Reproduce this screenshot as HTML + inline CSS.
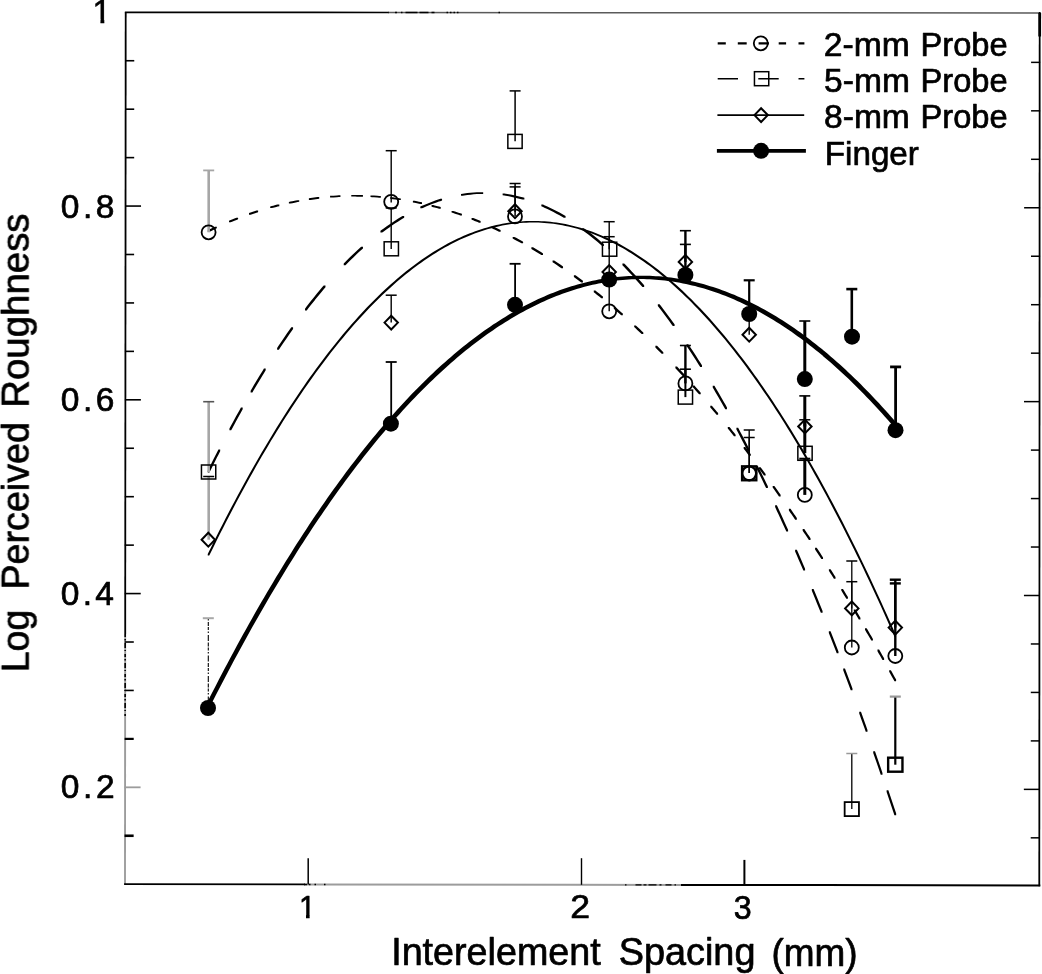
<!DOCTYPE html>
<html lang="en">
<head>
<meta charset="utf-8">
<title>Log Perceived Roughness vs Interelement Spacing</title>
<style>
html,body{margin:0;padding:0;background:#fff;}
body{width:1042px;height:974px;overflow:hidden;font-family:"Liberation Sans",sans-serif;}
svg{display:block;}
</style>
</head>
<body>
<svg width="1042" height="974" viewBox="0 0 1042 974" role="img" aria-label="Log perceived roughness as a function of interelement spacing">
<rect x="0" y="0" width="1042" height="974" fill="#fff"/>
<defs><filter id="soft" x="0" y="0" width="1042" height="974" filterUnits="userSpaceOnUse" color-interpolation-filters="sRGB"><feGaussianBlur stdDeviation="0.4"/></filter></defs>
<g filter="url(#soft)">
<g fill="none">
<path d="M125.20 634.00L125.00 884.20" stroke="#9c9c9c" stroke-width="1.9" stroke-linecap="butt"/>
<path d="M125.20 634.00L125.14 716.00" stroke="#000" stroke-width="1.6" stroke-linecap="butt" stroke-dasharray="3 2 1.5 2.5 5 2 1 3"/>
<path d="M125.70 12.30L125.20 634.00" stroke="#000" stroke-width="1.8" stroke-linecap="butt"/>
<path d="M304.00 884.43L682.00 884.93" stroke="#9c9c9c" stroke-width="2.0" stroke-linecap="butt"/>
<path d="M304.00 884.43L330.00 884.47" stroke="#000" stroke-width="1.6" stroke-linecap="butt" stroke-dasharray="3 2 1.5 4 1.5 8 1.5 20"/>
<path d="M625.00 884.86L682.00 884.93" stroke="#000" stroke-width="1.4" stroke-linecap="butt" stroke-dasharray="1.5 9 6 2 3 2 8 3 2 4 6 3"/>
<path d="M125.00 884.20L304.00 884.43" stroke="#000" stroke-width="1.8" stroke-linecap="square"/>
<path d="M682.00 884.93L1039.30 885.40" stroke="#000" stroke-width="2.0" stroke-linecap="square"/>
<path d="M388.00 12.50L1039.70 13.00" stroke="#5a5a5a" stroke-width="1.5" stroke-linecap="butt"/>
<path d="M395.00 12.51L500.00 12.59" stroke="#000" stroke-width="1.5" stroke-linecap="butt" stroke-dasharray="2 4 1.5 3 12 2 9 3 3 12 1.5 2 1.5 2 1.5 2 1.5 40"/>
<path d="M125.70 12.30L388.00 12.50" stroke="#000" stroke-width="1.7" stroke-linecap="square"/>
<path d="M1039.70 13.00L1039.30 885.40" stroke="#000" stroke-width="1.8" stroke-linecap="square"/>
<path d="M1039.70 13.00L1039.69 36.55" stroke="#000" stroke-width="2.8" stroke-linecap="butt"/>
</g>
<g fill="none" stroke="#000" stroke-width="1.5">
<path d="M125.16 60.74h9.1" stroke="#000" stroke-width="1.6"/>
<path d="M1040.18 62.37h-9.1"/>
<path d="M125.12 109.18h9.1" stroke="#000" stroke-width="1.6"/>
<path d="M1040.16 110.83h-9.1"/>
<path d="M125.08 157.62h9.1" stroke="#000" stroke-width="1.6"/>
<path d="M1040.13 159.30h-9.1"/>
<path d="M125.04 206.06h16.0" stroke="#000" stroke-width="1.6"/>
<path d="M1040.11 207.77h-16.0"/>
<path d="M125.01 254.49h9.1" stroke="#000" stroke-width="1.6"/>
<path d="M1040.09 256.23h-9.1"/>
<path d="M124.97 302.93h9.1" stroke="#000" stroke-width="1.6"/>
<path d="M1040.07 304.70h-9.1"/>
<path d="M124.93 351.37h9.1" stroke="#000" stroke-width="1.6"/>
<path d="M1040.04 353.17h-9.1"/>
<path d="M124.89 399.81h16.0" stroke="#000" stroke-width="1.6"/>
<path d="M1040.02 401.63h-16.0"/>
<path d="M124.85 448.25h9.1" stroke="#000" stroke-width="1.6"/>
<path d="M1040.00 450.10h-9.1"/>
<path d="M124.81 496.69h9.1" stroke="#000" stroke-width="1.6"/>
<path d="M1039.98 498.57h-9.1"/>
<path d="M124.77 545.13h9.1" stroke="#000" stroke-width="1.6"/>
<path d="M1039.96 547.03h-9.1"/>
<path d="M124.73 593.57h16.0" stroke="#000" stroke-width="1.6"/>
<path d="M1039.93 595.50h-16.0"/>
<path d="M124.69 642.01h9.1" stroke="#000" stroke-width="1.6"/>
<path d="M1039.91 643.97h-9.1"/>
<path d="M124.66 690.44h9.1" stroke="#000" stroke-width="1.6"/>
<path d="M1039.89 692.43h-9.1"/>
<path d="M124.62 738.88h9.1" stroke="#000" stroke-width="2.2"/>
<path d="M1039.87 740.90h-9.1"/>
<path d="M124.58 787.32h16.0" stroke="#9c9c9c" stroke-width="1.8"/>
<path d="M1039.84 789.37h-16.0"/>
<path d="M124.54 835.76h9.1" stroke="#000" stroke-width="2.6"/>
<path d="M1039.82 837.83h-9.1"/>
<path d="M308.20 884.44V858.20" stroke-width="1.5"/>
<path d="M581.50 884.80V858.20" stroke-width="1.4"/>
<path d="M744.40 885.01V859.90" stroke-width="2.0"/>
</g>
<g fill="#000" stroke="none">
<path d="M207.75 554.08L207.75 554.07L209.25 551.00L210.76 547.94L213.76 541.85L216.77 535.83L219.77 529.86L222.78 523.95L225.78 518.09L228.79 512.30L231.80 506.56L234.80 500.88L237.81 495.25L240.81 489.68L243.82 484.17L246.82 478.72L249.83 473.32L252.84 467.98L255.84 462.69L258.85 457.47L261.85 452.30L264.86 447.19L267.86 442.13L270.87 437.14L273.87 432.20L276.88 427.31L279.89 422.49L282.89 417.72L285.90 413.00L288.90 408.35L291.91 403.75L294.91 399.21L297.92 394.73L300.93 390.30L303.93 385.93L306.94 381.62L309.94 377.36L312.95 373.17L315.95 369.03L318.96 364.94L321.97 360.92L324.97 356.95L327.98 353.03L330.98 349.18L333.99 345.38L336.99 341.64L340.00 337.95L343.01 334.33L346.01 330.76L349.02 327.24L352.02 323.79L355.03 320.39L358.03 317.05L361.04 313.76L364.05 310.54L367.05 307.37L370.06 304.25L373.06 301.20L376.07 298.20L379.07 295.26L382.08 292.37L385.08 289.55L388.09 286.77L391.10 284.06L394.10 281.41L397.11 278.81L400.11 276.26L403.12 273.78L406.12 271.35L409.13 268.98L412.14 266.67L415.14 264.41L418.15 262.21L421.15 260.07L424.16 257.98L427.16 255.96L430.17 253.98L433.18 252.07L436.18 250.21L439.19 248.41L442.19 246.67L445.20 244.99L448.20 243.36L451.21 241.79L454.22 240.27L457.22 238.82L460.23 237.42L463.23 236.07L466.24 234.79L469.24 233.56L472.25 232.39L475.26 231.27L478.26 230.22L481.27 229.22L484.27 228.27L487.28 227.39L490.28 226.56L493.29 225.79L496.29 225.07L499.30 224.41L502.31 223.81L505.31 223.27L508.32 222.78L511.32 222.36L514.33 221.98L517.33 221.67L520.34 221.41L523.35 221.21L526.35 221.07L529.36 220.98L532.36 220.95L532.41 220.95L533.91 220.95L535.37 220.96L538.37 221.01L541.38 221.13L544.39 221.30L547.39 221.53L550.40 221.81L553.40 222.15L556.41 222.55L559.41 223.01L562.42 223.52L565.43 224.09L568.43 224.72L571.44 225.40L574.44 226.14L577.45 226.94L580.45 227.80L583.46 228.71L586.47 229.68L589.47 230.71L592.48 231.79L595.48 232.93L598.49 234.13L601.49 235.39L604.50 236.70L607.51 238.07L610.51 239.50L613.52 240.98L616.52 242.52L619.53 244.12L622.53 245.78L625.54 247.49L628.54 249.26L631.55 251.08L634.56 252.97L637.56 254.91L640.57 256.91L643.57 258.96L646.58 261.07L649.58 263.24L652.59 265.47L655.60 267.75L658.60 270.09L661.61 272.49L664.61 274.95L667.62 277.46L670.62 280.03L673.63 282.65L676.64 285.34L679.64 288.08L682.65 290.87L685.65 293.73L688.66 296.64L691.66 299.61L694.67 302.64L697.68 305.72L700.68 308.86L703.69 312.06L706.69 315.31L709.70 318.62L712.70 321.99L715.71 325.41L718.72 328.90L721.72 332.44L724.73 336.03L727.73 339.69L730.74 343.40L733.74 347.17L736.75 350.99L739.75 354.88L742.76 358.81L745.77 362.81L748.77 366.86L751.78 370.98L754.78 375.14L757.79 379.37L760.79 383.65L763.80 387.99L766.81 392.39L769.81 396.84L772.82 401.35L775.82 405.92L778.83 410.54L781.83 415.22L784.84 419.96L787.85 424.76L790.85 429.61L793.86 434.52L796.86 439.49L799.87 444.52L802.87 449.60L805.88 454.74L808.89 459.93L811.89 465.18L814.90 470.49L817.90 475.86L820.91 481.29L823.91 486.77L826.92 492.31L829.93 497.90L832.93 503.55L835.94 509.26L838.94 515.03L841.95 520.85L844.95 526.74L847.96 532.67L850.96 538.67L853.97 544.72L856.98 550.83L859.98 557.00L862.99 563.22L865.99 569.50L869.00 575.84L872.00 582.24L875.01 588.69L878.02 595.20L881.02 601.76L884.03 608.39L887.03 615.07L890.04 621.80L893.04 628.60L894.55 632.02L896.05 635.45L896.05 635.45L896.05 636.95L896.05 636.95L894.55 636.95L893.04 633.51L890.04 626.69L887.03 619.92L884.03 613.21L881.02 606.56L878.02 599.97L875.01 593.43L872.00 586.95L869.00 580.52L865.99 574.16L862.99 567.85L859.98 561.60L856.98 555.40L853.97 549.26L850.96 543.18L847.96 537.16L844.95 531.19L841.95 525.28L838.94 519.43L835.94 513.63L832.93 507.90L829.93 502.22L826.92 496.59L823.91 491.02L820.91 485.51L817.90 480.06L814.90 474.67L811.89 469.33L808.89 464.05L805.88 458.82L802.87 453.65L799.87 448.54L796.86 443.49L793.86 438.50L790.85 433.56L787.85 428.67L784.84 423.85L781.83 419.08L778.83 414.37L775.82 409.72L772.82 405.12L769.81 400.58L766.81 396.10L763.80 391.68L760.79 387.31L757.79 383.00L754.78 378.75L751.78 374.55L748.77 370.41L745.77 366.33L742.76 362.30L739.75 358.33L736.75 354.42L733.74 350.57L730.74 346.77L727.73 343.03L724.73 339.35L721.72 335.73L718.72 332.16L715.71 328.65L712.70 325.19L709.70 321.79L706.69 318.45L703.69 315.17L700.68 311.95L697.68 308.78L694.67 305.67L691.66 302.61L688.66 299.61L685.65 296.67L682.65 293.79L679.64 290.97L676.64 288.20L673.63 285.49L670.62 282.83L667.62 280.23L664.61 277.69L661.61 275.21L658.60 272.78L655.60 270.41L652.59 268.10L649.58 265.85L646.58 263.65L643.57 261.51L640.57 259.43L637.56 257.40L634.56 255.43L631.55 253.52L628.54 251.66L625.54 249.86L622.53 248.12L619.53 246.44L616.52 244.81L613.52 243.24L610.51 241.73L607.51 240.28L604.50 238.88L601.49 237.54L598.49 236.25L595.48 235.03L592.48 233.86L589.47 232.74L586.47 231.69L583.46 230.69L580.45 229.75L577.45 228.86L574.44 228.04L571.44 227.27L568.43 226.55L565.43 225.90L562.42 225.30L559.41 224.76L556.41 224.27L553.40 223.84L550.40 223.47L547.39 223.16L544.39 222.90L541.38 222.71L538.37 222.56L535.37 222.48L533.91 222.46L532.41 222.46L532.36 222.46L529.36 222.52L526.35 222.63L523.35 222.80L520.34 223.03L517.33 223.32L514.33 223.66L511.32 224.06L508.32 224.52L505.31 225.03L502.31 225.61L499.30 226.24L496.29 226.92L493.29 227.66L490.28 228.46L487.28 229.32L484.27 230.24L481.27 231.21L478.26 232.24L475.26 233.32L472.25 234.47L469.24 235.67L466.24 236.92L463.23 238.24L460.23 239.61L457.22 241.04L454.22 242.52L451.21 244.06L448.20 245.66L445.20 247.32L442.19 249.03L439.19 250.81L436.18 252.63L433.18 254.52L430.17 256.46L427.16 258.46L424.16 260.52L421.15 262.63L418.15 264.80L415.14 267.03L412.14 269.31L409.13 271.66L406.12 274.06L403.12 276.51L400.11 279.03L397.11 281.60L394.10 284.22L391.10 286.91L388.09 289.65L385.08 292.45L382.08 295.31L379.07 298.22L376.07 301.19L373.06 304.22L370.06 307.30L367.05 310.44L364.05 313.64L361.04 316.90L358.03 320.21L355.03 323.58L352.02 327.01L349.02 330.49L346.01 334.03L343.01 337.63L340.00 341.29L336.99 345.00L333.99 348.77L330.98 352.59L327.98 356.48L324.97 360.42L321.97 364.42L318.96 368.47L315.95 372.59L312.95 376.75L309.94 380.98L306.94 385.26L303.93 389.61L300.93 394.00L297.92 398.46L294.91 402.97L291.91 407.54L288.90 412.17L285.90 416.85L282.89 421.59L279.89 426.39L276.88 431.24L273.87 436.15L270.87 441.12L267.86 446.15L264.86 451.23L261.85 456.37L258.85 461.57L255.84 466.82L252.84 472.14L249.83 477.50L246.82 482.93L243.82 488.41L240.81 493.95L237.81 499.55L234.80 505.20L231.80 510.92L228.79 516.68L225.78 522.51L222.78 528.39L219.77 534.33L216.77 540.33L213.76 546.38L210.76 552.49L209.25 555.58L207.75 555.58L207.75 555.58Z"/>
<path d="M207.72 470.71L207.73 470.71L209.47 467.18L210.84 464.45L213.95 458.26L217.06 452.14L218.43 449.48L220.17 449.48L220.18 449.48L220.18 451.23L220.17 451.23L218.43 454.65L217.06 457.32L213.95 463.48L210.84 469.71L209.47 472.46L207.73 472.46L207.72 472.46ZM229.43 428.54L229.43 428.53L231.18 425.29L232.74 422.40L236.05 416.35L239.36 410.38L240.93 407.59L242.67 407.59L242.68 407.59L242.68 409.34L242.67 409.34L240.93 412.46L239.36 415.27L236.05 421.29L232.74 427.38L231.18 430.29L229.43 430.29L229.43 430.29ZM250.62 390.67L250.63 390.67L252.38 387.70L253.63 385.57L256.64 380.53L259.66 375.55L262.67 370.64L263.93 368.61L265.67 368.61L265.68 368.61L265.68 370.36L265.67 370.36L263.93 373.19L262.67 375.24L259.66 380.18L256.64 385.20L253.63 390.28L252.38 392.42L250.63 392.42L250.62 392.42ZM277.12 347.99L277.13 347.99L278.88 345.35L280.31 343.20L283.50 338.49L286.69 333.84L289.88 329.28L291.32 327.24L293.07 327.24L293.07 327.24L293.07 328.99L293.07 328.99L291.32 331.47L289.88 333.52L286.69 338.13L283.50 342.81L280.31 347.57L278.88 349.74L277.13 349.74L277.12 349.74ZM305.02 308.63L305.03 308.63L306.77 306.35L307.95 304.84L310.87 301.11L313.79 297.44L316.71 293.84L319.63 290.30L322.55 286.82L323.73 285.45L325.47 285.45L325.48 285.45L325.48 287.20L325.47 287.20L323.73 289.26L322.55 290.65L319.63 294.16L316.71 297.74L313.79 301.38L310.87 305.08L307.95 308.85L306.77 310.38L305.03 310.38L305.02 310.38ZM343.73 263.50L343.73 263.50L345.48 261.72L346.93 260.25L350.14 257.08L353.35 253.98L356.56 250.96L359.77 248.01L361.23 246.70L362.97 246.70L362.98 246.70L362.98 248.45L362.97 248.45L361.23 250.03L359.77 251.36L356.56 254.35L353.35 257.41L350.14 260.55L346.93 263.76L345.48 265.25L343.73 265.25L343.73 265.25ZM380.43 230.86L380.43 230.86L382.18 229.55L383.39 228.65L386.36 226.51L389.33 224.43L392.30 222.42L395.27 220.47L398.24 218.59L401.21 216.77L402.43 216.04L404.17 216.04L404.18 216.04L404.18 217.79L404.17 217.79L402.43 218.84L401.21 219.58L398.24 221.44L395.27 223.36L392.30 225.35L389.33 227.40L386.36 229.52L383.39 231.70L382.18 232.61L380.43 232.61L380.43 232.61ZM420.32 206.61L420.33 206.61L422.07 205.81L423.43 205.21L426.54 203.88L429.65 202.63L432.75 201.44L435.86 200.33L438.97 199.29L440.32 198.85L442.07 198.85L442.07 198.85L442.07 200.60L442.07 200.60L440.32 201.16L438.97 201.61L435.86 202.70L432.75 203.85L429.65 205.08L426.54 206.37L423.43 207.74L422.07 208.36L420.33 208.36L420.32 208.36ZM461.02 193.92L461.03 193.92L462.77 193.65L464.19 193.44L467.35 193.04L470.52 192.71L473.68 192.45L476.85 192.27L480.01 192.16L481.43 192.14L483.17 192.14L483.18 192.14L483.18 193.89L483.17 193.89L481.43 193.92L480.01 193.96L476.85 194.11L473.68 194.34L470.52 194.63L467.35 195.00L464.19 195.45L462.77 195.67L461.03 195.67L461.02 195.67ZM502.62 193.53L502.63 193.53L504.38 193.53L505.73 193.73L508.84 194.24L511.95 194.82L515.05 195.48L518.16 196.20L521.27 197.00L522.62 197.37L524.37 197.86L524.38 197.86L524.38 199.61L524.37 199.61L522.62 199.61L521.27 199.23L518.16 198.39L515.05 197.63L511.95 196.93L508.84 196.31L505.73 195.76L504.38 195.54L502.63 195.28L502.62 195.28ZM541.33 204.58L541.33 204.58L543.08 204.58L544.36 205.13L547.39 206.49L550.42 207.92L553.45 209.41L556.48 210.97L559.51 212.60L562.54 214.30L563.83 215.03L565.57 216.06L565.58 216.06L565.58 217.81L565.57 217.81L563.83 217.81L562.54 217.06L559.51 215.32L556.48 213.65L553.45 212.05L550.42 210.52L547.39 209.05L544.36 207.66L543.08 207.09L541.33 206.33L541.33 206.33ZM582.12 228.14L582.13 228.14L583.88 228.14L585.23 229.14L588.34 231.46L591.45 233.86L594.55 236.33L597.66 238.87L600.77 241.48L602.12 242.64L603.87 244.16L603.88 244.16L603.88 245.91L603.87 245.91L602.12 245.91L600.77 244.73L597.66 242.08L594.55 239.50L591.45 236.99L588.34 234.55L585.23 232.19L583.88 231.18L582.13 229.89L582.12 229.89ZM622.42 263.42L622.43 263.42L624.17 263.42L625.53 264.82L628.64 268.07L631.75 271.38L634.85 274.77L637.96 278.23L641.07 281.76L642.42 283.33L644.17 285.36L644.17 285.36L644.17 287.11L644.17 287.11L642.42 287.11L641.07 285.53L637.96 281.96L634.85 278.46L631.75 275.03L628.64 271.68L625.53 268.39L624.17 266.98L622.43 265.18L622.42 265.17ZM657.83 304.26L657.83 304.26L659.58 304.26L660.62 305.60L663.41 309.24L666.20 312.93L668.99 316.67L671.78 320.48L672.83 321.91L674.57 324.34L674.58 324.34L674.58 326.09L674.57 326.09L672.83 326.09L671.78 324.64L668.99 320.80L666.20 317.02L663.41 313.29L660.62 309.62L659.58 308.27L657.83 306.01L657.83 306.01ZM686.52 344.13L686.53 344.13L688.27 344.13L689.62 346.14L692.71 350.82L695.79 355.57L698.88 360.40L700.23 362.51L701.97 365.29L701.98 365.29L701.98 367.04L701.97 367.04L700.23 367.04L698.88 364.91L695.79 360.05L692.71 355.25L689.62 350.53L688.27 348.50L686.53 345.88L686.52 345.88ZM712.73 385.80L712.73 385.80L714.48 385.80L715.58 387.66L718.43 392.52L721.27 397.44L724.12 402.42L725.23 404.36L726.97 407.46L726.98 407.46L726.98 409.21L726.97 409.21L725.23 409.21L724.12 407.26L721.27 402.24L718.43 397.29L715.58 392.39L714.48 390.52L712.73 387.55L712.73 387.55ZM736.42 427.85L736.43 427.85L738.17 427.85L739.69 430.67L742.95 436.82L746.21 443.04L747.73 445.96L749.47 449.34L749.48 449.35L749.48 451.10L749.47 451.10L747.73 451.10L746.21 448.16L742.95 441.90L739.69 435.71L738.17 432.86L736.43 429.60L736.42 429.60ZM756.12 465.94L756.13 465.94L757.88 465.94L759.06 468.32L762.00 474.27L764.94 480.28L766.12 482.73L767.87 486.36L767.88 486.36L767.88 488.11L767.87 488.11L766.12 488.11L764.94 485.65L762.00 479.60L759.06 473.61L757.88 471.21L756.13 467.69L756.12 467.69ZM775.12 505.37L775.13 505.37L776.88 505.37L778.36 508.57L781.60 515.59L784.84 522.69L786.33 525.97L788.07 529.86L788.08 529.86L788.08 531.61L788.07 531.61L786.33 531.61L784.84 528.31L781.60 521.17L778.36 514.11L776.88 510.89L775.13 507.12L775.12 507.12ZM795.12 549.75L795.13 549.75L796.88 549.75L798.44 553.35L801.76 561.03L803.33 564.69L805.07 568.79L805.08 568.79L805.08 570.54L805.07 570.54L803.33 570.54L801.76 566.87L798.44 559.14L796.88 555.52L795.13 551.50L795.12 551.50ZM811.83 589.06L811.83 589.06L813.58 589.06L814.51 591.32L817.20 597.86L819.89 604.45L820.83 606.76L822.57 611.09L822.58 611.09L822.58 612.84L822.57 612.84L820.83 612.84L819.89 610.52L817.20 603.89L814.51 597.32L813.58 595.04L811.83 590.81L811.83 590.81ZM828.83 631.17L828.83 631.17L830.58 631.17L832.04 634.91L835.26 643.15L836.73 646.93L838.47 651.46L838.48 651.47L838.48 653.22L838.47 653.22L836.73 653.22L835.26 649.42L832.04 641.13L830.58 637.38L828.83 632.93L828.83 632.92ZM843.23 668.51L843.23 668.51L844.98 668.51L846.31 672.04L849.39 680.27L850.73 683.84L852.47 688.56L852.48 688.56L852.48 690.31L852.47 690.31L850.73 690.31L849.39 686.71L846.31 678.45L844.98 674.90L843.23 670.26L843.23 670.26ZM859.23 711.78L859.23 711.78L860.98 711.78L861.98 714.55L864.73 722.20L865.73 724.99L867.47 729.90L867.48 729.90L867.48 731.65L867.47 731.65L865.73 731.65L864.73 728.84L861.98 721.16L860.98 718.38L859.23 713.53L859.23 713.53ZM873.23 751.19L873.23 751.19L874.98 751.19L876.31 755.02L879.39 763.92L880.73 767.79L882.47 772.89L882.48 772.89L882.48 774.64L882.47 774.64L880.73 774.64L879.39 770.75L876.31 761.81L874.98 757.96L873.23 752.94L873.23 752.94ZM886.62 790.25L886.63 790.25L888.38 790.25L889.81 794.51L892.99 804.02L894.42 808.32L896.17 813.60L896.17 813.60L896.17 815.35L896.17 815.35L894.42 815.35L892.99 811.03L889.81 801.48L888.38 797.20L886.63 792.01L886.62 792.00Z"/>
<path d="M207.78 230.16L207.78 230.16L209.42 229.36L210.79 228.72L213.81 227.30L215.18 226.67L216.82 226.67L216.82 226.67L216.82 228.32L216.82 228.32L215.18 229.09L213.81 229.72L210.79 231.15L209.42 231.81L207.78 231.81L207.78 231.81ZM228.98 220.66L228.98 220.66L230.62 219.99L232.03 219.42L235.08 218.21L236.48 217.66L238.12 217.66L238.12 217.66L238.12 219.31L238.12 219.31L236.48 219.96L235.08 220.51L232.03 221.74L230.62 222.31L228.98 222.31L228.98 222.31ZM248.98 213.07L248.98 213.07L250.62 212.51L252.03 212.03L255.08 211.02L256.48 210.57L258.12 210.57L258.12 210.57L258.12 212.22L258.12 212.22L256.48 212.75L255.08 213.22L252.03 214.24L250.62 214.72L248.98 214.72L248.98 214.72ZM270.18 206.47L270.18 206.47L271.82 206.02L273.23 205.65L276.27 204.85L277.68 204.50L279.32 204.50L279.32 204.50L279.32 206.15L279.32 206.15L277.68 206.57L276.27 206.93L273.23 207.74L271.82 208.12L270.18 208.12L270.18 208.12ZM288.88 201.89L288.88 201.89L290.52 201.54L292.32 201.17L295.77 200.49L297.57 200.15L299.22 200.15L299.22 200.15L299.22 201.80L299.22 201.80L297.57 202.11L295.77 202.46L292.32 203.16L290.52 203.54L288.88 203.54L288.88 203.54ZM308.88 198.27L308.88 198.27L310.52 198.03L312.32 197.78L315.77 197.33L317.57 197.11L319.22 197.11L319.22 197.11L319.22 198.76L319.22 198.76L317.57 198.96L315.77 199.19L312.32 199.66L310.52 199.92L308.88 199.92L308.88 199.92ZM330.07 195.87L330.08 195.87L331.72 195.75L333.52 195.63L336.98 195.42L338.78 195.32L340.42 195.32L340.43 195.32L340.43 196.97L340.42 196.97L338.78 197.06L336.98 197.16L333.52 197.39L331.72 197.52L330.08 197.52L330.07 197.52ZM351.28 194.97L351.28 194.97L352.93 194.96L353.55 194.96L354.19 194.96L355.20 194.96L357.10 194.97L360.01 195.00L361.28 195.02L362.92 195.06L362.93 195.06L362.93 196.71L362.92 196.71L361.28 196.71L360.01 196.68L357.10 196.63L355.20 196.62L354.19 196.61L353.55 196.62L352.93 196.62L351.28 196.62L351.28 196.62ZM370.48 195.44L370.48 195.44L372.12 195.44L373.93 195.54L377.38 195.78L379.18 195.91L380.82 196.05L380.82 196.05L380.82 197.70L380.82 197.70L379.18 197.70L377.38 197.55L373.93 197.30L372.12 197.18L370.48 197.09L370.48 197.09ZM390.18 197.18L390.18 197.18L391.82 197.18L392.84 197.31L395.50 197.65L398.16 198.02L399.18 198.17L400.82 198.41L400.82 198.41L400.82 200.06L400.82 200.06L399.18 200.06L398.16 199.91L395.50 199.53L392.84 199.17L391.82 199.04L390.18 198.83L390.18 198.83ZM412.88 200.79L412.88 200.79L414.52 200.79L415.93 201.07L418.97 201.70L420.38 202.00L422.02 202.36L422.02 202.36L422.02 204.01L422.02 204.01L420.38 204.01L418.97 203.70L415.93 203.06L414.52 202.77L412.88 202.44L412.88 202.44ZM431.57 205.05L431.58 205.05L433.22 205.05L434.62 205.41L437.67 206.23L439.07 206.62L440.72 207.08L440.72 207.08L440.72 208.73L440.72 208.73L439.07 208.73L437.67 208.33L434.62 207.50L433.22 207.13L431.58 206.70L431.57 206.70ZM451.57 210.88L451.58 210.88L453.22 210.88L455.02 211.47L458.48 212.63L460.28 213.25L461.92 213.83L461.93 213.83L461.93 215.48L461.92 215.48L460.28 215.48L458.48 214.85L455.02 213.67L453.22 213.07L451.58 212.53L451.57 212.53ZM471.57 218.04L471.58 218.04L473.22 218.04L474.59 218.57L477.61 219.78L478.98 220.34L480.62 221.02L480.62 221.02L480.62 222.67L480.62 222.67L478.98 222.67L477.61 222.10L474.59 220.88L473.22 220.33L471.58 219.69L471.57 219.69ZM491.48 226.47L491.48 226.47L493.12 226.47L494.53 227.11L497.57 228.54L498.98 229.20L500.62 229.99L500.62 229.99L500.62 231.64L500.62 231.64L498.98 231.64L497.57 230.97L494.53 229.53L493.12 228.88L491.48 228.12L491.48 228.12ZM512.67 236.90L512.68 236.90L514.33 236.90L516.16 237.87L519.64 239.75L521.47 240.76L523.12 241.67L523.12 241.67L523.12 243.32L523.12 243.32L521.47 243.32L519.64 242.30L516.16 240.41L514.33 239.43L512.68 238.55L512.67 238.55ZM531.38 247.34L531.38 247.34L533.03 247.34L534.29 248.08L537.20 249.83L540.11 251.60L541.38 252.37L543.02 253.39L543.03 253.39L543.03 255.04L543.02 255.04L541.38 255.04L540.11 254.26L537.20 252.48L534.29 250.72L533.03 249.97L531.38 248.99L531.38 248.99ZM552.57 260.57L552.58 260.57L554.23 260.57L556.06 261.79L559.54 264.12L561.38 265.37L563.02 266.50L563.03 266.50L563.03 268.15L563.02 268.15L561.38 268.15L559.54 266.89L556.06 264.54L554.23 263.31L552.58 262.22L552.57 262.22ZM573.88 275.37L573.88 275.37L575.53 275.37L576.89 276.37L579.91 278.60L581.27 279.62L582.92 280.86L582.93 280.86L582.93 282.51L582.92 282.51L581.27 282.51L579.91 281.48L576.89 279.23L575.53 278.22L573.88 277.02L573.88 277.02ZM593.77 290.55L593.78 290.55L595.43 290.55L596.83 291.66L599.88 294.12L601.27 295.26L602.92 296.61L602.93 296.61L602.93 298.26L602.92 298.26L601.27 298.26L599.88 297.11L596.83 294.64L595.43 293.51L593.78 292.20L593.77 292.20ZM613.77 307.12L613.78 307.12L615.43 307.12L616.79 308.30L619.81 310.93L621.17 312.13L622.82 313.59L622.83 313.59L622.83 315.24L622.82 315.24L621.17 315.24L619.81 314.03L616.79 311.39L615.43 310.20L613.78 308.77L613.77 308.77ZM634.17 325.40L634.18 325.40L635.83 325.40L637.23 326.70L640.27 329.57L641.67 330.89L643.32 332.46L643.33 332.46L643.33 334.11L643.32 334.11L641.67 334.11L640.27 332.78L637.23 329.90L635.83 328.59L634.18 327.05L634.17 327.05ZM655.38 345.85L655.38 345.85L657.03 345.85L658.02 346.85L660.68 349.52L661.67 350.53L663.32 352.21L663.33 352.21L663.33 353.86L663.32 353.86L661.67 353.86L660.68 352.85L658.02 350.16L657.03 349.15L655.38 347.50L655.38 347.50ZM675.38 366.51L675.38 366.51L677.03 366.51L678.43 368.00L681.48 371.29L682.88 372.80L684.52 374.60L684.53 374.60L684.53 376.25L684.52 376.25L682.88 376.25L681.48 374.72L678.43 371.43L677.03 369.92L675.38 368.16L675.38 368.16ZM692.77 385.56L692.78 385.56L694.43 385.56L695.42 386.69L698.08 389.68L699.07 390.82L700.72 392.70L700.73 392.71L700.73 394.36L700.72 394.36L699.07 394.36L698.08 393.21L695.42 390.20L694.43 389.07L692.78 387.21L692.77 387.21ZM710.27 405.73L710.28 405.73L711.93 405.73L712.89 406.88L715.51 409.99L716.47 411.14L718.12 413.12L718.12 413.12L718.12 414.77L718.12 414.77L716.47 414.77L715.51 413.61L712.89 410.49L711.93 409.34L710.28 407.38L710.27 407.38ZM727.77 426.92L727.78 426.92L729.43 426.92L730.39 428.12L733.01 431.38L733.97 432.59L735.62 434.67L735.62 434.67L735.62 436.32L735.62 436.32L733.97 436.32L733.01 435.10L730.39 431.82L729.43 430.62L727.78 428.57L727.77 428.57ZM743.67 447.05L743.68 447.05L745.33 447.05L746.06 448.00L748.44 451.09L749.17 452.05L750.82 454.20L750.83 454.21L750.83 455.86L750.82 455.86L749.17 455.86L748.44 454.90L746.06 451.79L745.33 450.83L743.68 448.70L743.67 448.70ZM758.97 467.21L758.98 467.21L760.62 467.21L761.19 467.97L763.41 470.96L763.97 471.73L765.62 473.96L765.62 473.96L765.62 475.61L765.62 475.61L763.97 475.61L763.41 474.84L761.19 471.84L760.62 471.08L758.98 468.86L758.97 468.86ZM772.67 485.92L772.68 485.92L774.33 485.92L775.32 487.31L777.98 491.01L778.97 492.41L780.62 494.73L780.62 494.73L780.62 496.38L780.62 496.38L778.97 496.38L777.98 494.97L775.32 491.26L774.33 489.86L772.68 487.57L772.67 487.57ZM788.88 508.84L788.88 508.84L790.53 508.84L791.52 510.29L794.18 514.13L795.17 515.59L796.82 517.99L796.83 518.00L796.83 519.65L796.82 519.65L795.17 519.65L794.18 518.18L791.52 514.33L790.53 512.88L788.88 510.50L788.88 510.49ZM802.67 529.06L802.68 529.06L804.33 529.06L805.29 530.50L807.91 534.41L808.88 535.86L810.52 538.35L810.53 538.35L810.53 540.00L810.52 540.00L808.88 540.00L807.91 538.54L805.29 534.61L804.33 533.17L802.68 530.71L802.67 530.71ZM815.07 547.76L815.08 547.76L816.73 547.76L817.73 549.29L820.38 553.37L821.38 554.91L823.02 557.46L823.03 557.46L823.03 559.11L823.02 559.11L821.38 559.11L820.38 557.56L817.73 553.48L816.73 551.94L815.08 549.41L815.07 549.41ZM828.88 569.18L828.88 569.18L830.53 569.18L831.09 570.07L833.31 573.57L833.88 574.47L835.52 577.09L835.53 577.09L835.53 578.74L835.52 578.74L833.88 578.74L833.31 577.84L831.09 574.33L830.53 573.43L828.88 570.83L828.88 570.83ZM841.27 588.96L841.28 588.96L842.93 588.96L843.49 589.87L845.71 593.47L846.27 594.39L847.92 597.07L847.93 597.08L847.93 598.73L847.92 598.73L846.27 598.73L845.71 597.80L843.49 594.20L842.93 593.28L841.28 590.61L841.27 590.61ZM853.77 609.41L853.78 609.41L855.43 609.41L855.99 610.35L858.21 614.03L858.77 614.98L860.42 617.73L860.43 617.74L860.43 619.39L860.42 619.39L858.77 619.39L858.21 618.44L855.99 614.74L855.43 613.80L853.78 611.06L853.77 611.06ZM864.97 628.18L864.98 628.18L866.62 628.18L867.62 629.87L870.27 634.38L871.27 636.09L872.92 638.91L872.93 638.92L872.93 640.57L872.92 640.57L871.27 640.57L870.27 638.85L867.62 634.33L866.62 632.63L864.98 629.83L864.97 629.83ZM877.47 649.61L877.48 649.61L879.12 649.61L879.69 650.60L881.91 654.46L882.47 655.44L884.12 658.33L884.12 658.33L884.12 659.98L884.12 659.98L882.47 659.98L881.91 658.99L879.69 655.12L879.12 654.13L877.48 651.26L877.47 651.26ZM889.17 670.14L889.18 670.14L890.83 670.14L891.49 671.33L893.81 675.45L894.47 676.64L896.12 679.59L896.12 679.59L896.12 681.24L896.12 681.24L894.47 681.24L893.81 680.05L891.49 675.91L890.83 674.73L889.18 671.80L889.17 671.79Z"/>
<path d="M206.85 703.08L206.85 703.07L209.86 697.14L210.15 696.58L212.88 691.25L215.89 685.40L218.90 679.59L221.92 673.82L224.93 668.10L227.94 662.41L230.96 656.77L233.97 651.17L236.99 645.61L240.00 640.09L243.01 634.62L246.03 629.18L249.04 623.79L252.05 618.43L255.07 613.12L258.08 607.85L261.09 602.62L264.11 597.44L267.12 592.29L270.13 587.19L273.15 582.13L276.16 577.11L279.17 572.13L282.19 567.19L285.20 562.29L288.22 557.44L291.23 552.63L294.24 547.85L297.26 543.12L300.27 538.43L303.28 533.79L306.30 529.18L309.31 524.62L312.32 520.09L315.34 515.61L318.35 511.17L321.36 506.77L324.38 502.42L327.39 498.10L330.41 493.83L333.42 489.59L336.43 485.40L339.45 481.25L342.46 477.15L345.47 473.08L348.49 469.05L351.50 465.07L354.51 461.13L357.53 457.23L360.54 453.37L363.55 449.55L366.57 445.77L369.58 442.04L372.59 438.35L375.61 434.69L378.62 431.08L381.64 427.51L384.65 423.99L387.66 420.50L390.68 417.06L393.69 413.65L396.70 410.29L399.72 406.97L402.73 403.69L405.74 400.46L408.76 397.26L411.77 394.11L414.78 390.99L417.80 387.92L420.81 384.89L423.82 381.90L426.84 378.96L429.85 376.05L432.87 373.19L435.88 370.37L438.89 367.59L441.91 364.85L444.92 362.15L447.93 359.49L450.95 356.88L453.96 354.30L456.97 351.77L459.99 349.28L463.00 346.83L466.01 344.42L469.03 342.06L472.04 339.73L475.05 337.45L478.07 335.21L481.08 333.01L484.10 330.85L487.11 328.73L490.12 326.66L493.14 324.62L496.15 322.63L499.16 320.68L502.18 318.77L505.19 316.90L508.20 315.07L511.22 313.29L514.23 311.55L517.24 309.84L520.26 308.18L523.27 306.56L526.28 304.98L529.30 303.45L532.31 301.95L535.33 300.50L538.34 299.09L541.35 297.72L544.37 296.39L547.38 295.10L550.39 293.85L553.41 292.65L556.42 291.49L559.43 290.37L562.45 289.28L565.46 288.25L568.47 287.25L571.49 286.29L574.50 285.38L577.52 284.51L580.53 283.67L583.54 282.88L586.56 282.14L589.57 281.43L592.58 280.76L595.60 280.14L598.61 279.56L601.62 279.02L604.64 278.52L607.65 278.06L610.66 277.64L613.68 277.27L616.69 276.93L619.70 276.64L622.72 276.39L625.73 276.18L628.75 276.01L631.76 275.89L634.77 275.80L637.79 275.76L639.42 275.75L640.80 275.75L642.72 275.75L643.81 275.76L646.83 275.79L649.84 275.87L652.85 275.99L655.87 276.15L658.88 276.35L661.89 276.59L664.91 276.88L667.92 277.20L670.93 277.57L673.95 277.98L676.96 278.43L679.98 278.92L682.99 279.46L686.00 280.03L689.02 280.65L692.03 281.31L695.04 282.01L698.06 282.75L701.07 283.53L704.08 284.35L707.10 285.22L710.11 286.13L713.12 287.07L716.14 288.06L719.15 289.10L722.16 290.17L725.18 291.28L728.19 292.44L731.21 293.64L734.22 294.87L737.23 296.15L740.25 297.48L743.26 298.84L746.27 300.24L749.29 301.69L752.30 303.18L755.31 304.71L758.33 306.28L761.34 307.89L764.35 309.54L767.37 311.24L770.38 312.97L773.39 314.75L776.41 316.57L779.42 318.43L782.44 320.33L785.45 322.28L788.46 324.26L791.48 326.29L794.49 328.36L797.50 330.47L800.52 332.62L803.53 334.81L806.54 337.05L809.56 339.32L812.57 341.64L815.58 344.00L818.60 346.40L821.61 348.84L824.63 351.32L827.64 353.85L830.65 356.41L833.67 359.02L836.68 361.67L839.69 364.36L842.71 367.09L845.72 369.86L848.73 372.68L851.75 375.54L854.76 378.43L857.77 381.37L860.79 384.35L863.80 387.38L866.81 390.44L869.83 393.54L872.84 396.69L875.86 399.88L878.87 403.11L881.88 406.38L884.90 409.69L887.91 413.05L890.92 416.44L893.65 419.55L893.94 419.88L896.95 423.36L896.95 423.36L896.95 426.66L896.95 426.66L893.94 426.66L893.65 426.66L890.92 423.51L887.91 420.07L884.90 416.67L881.88 413.31L878.87 409.99L875.86 406.72L872.84 403.48L869.83 400.29L866.81 397.14L863.80 394.03L860.79 390.97L857.77 387.94L854.76 384.95L851.75 382.01L848.73 379.11L845.72 376.25L842.71 373.43L839.69 370.65L836.68 367.92L833.67 365.22L830.65 362.57L827.64 359.96L824.63 357.39L821.61 354.86L818.60 352.37L815.58 349.93L812.57 347.52L809.56 345.16L806.54 342.84L803.53 340.56L800.52 338.32L797.50 336.13L794.49 333.97L791.48 331.86L788.46 329.78L785.45 327.75L782.44 325.76L779.42 323.82L776.41 321.91L773.39 320.05L770.38 318.22L767.37 316.44L764.35 314.70L761.34 313.00L758.33 311.34L755.31 309.73L752.30 308.15L749.29 306.62L746.27 305.13L743.26 303.68L740.25 302.27L737.23 300.90L734.22 299.58L731.21 298.29L728.19 297.05L725.18 295.85L722.16 294.69L719.15 293.57L716.14 292.50L713.12 291.46L710.11 290.47L707.10 289.51L704.08 288.60L701.07 287.73L698.06 286.91L695.04 286.12L692.03 285.38L689.02 284.67L686.00 284.01L682.99 283.39L679.98 282.81L676.96 282.27L673.95 281.78L670.93 281.32L667.92 280.91L664.91 280.54L661.89 280.21L658.88 279.92L655.87 279.67L652.85 279.47L649.84 279.30L646.83 279.18L643.81 279.10L642.72 279.08L640.80 279.06L639.42 279.08L637.79 279.11L634.77 279.20L631.76 279.33L628.75 279.50L625.73 279.71L622.72 279.97L619.70 280.26L616.69 280.60L613.68 280.98L610.66 281.40L607.65 281.86L604.64 282.37L601.62 282.91L598.61 283.50L595.60 284.13L592.58 284.80L589.57 285.51L586.56 286.26L583.54 287.05L580.53 287.89L577.52 288.76L574.50 289.68L571.49 290.64L568.47 291.64L565.46 292.69L562.45 293.77L559.43 294.90L556.42 296.06L553.41 297.27L550.39 298.52L547.38 299.81L544.37 301.15L541.35 302.52L538.34 303.94L535.33 305.39L532.31 306.89L529.30 308.43L526.28 310.01L523.27 311.64L520.26 313.30L517.24 315.01L514.23 316.76L511.22 318.55L508.20 320.38L505.19 322.25L502.18 324.16L499.16 326.12L496.15 328.12L493.14 330.15L490.12 332.23L487.11 334.35L484.10 336.52L481.08 338.72L478.07 340.97L475.05 343.25L472.04 345.58L469.03 347.95L466.01 350.36L463.00 352.82L459.99 355.31L456.97 357.85L453.96 360.42L450.95 363.04L447.93 365.70L444.92 368.40L441.91 371.15L438.89 373.93L435.88 376.76L432.87 379.63L429.85 382.54L426.84 385.49L423.82 388.48L420.81 391.51L417.80 394.59L414.78 397.70L411.77 400.86L408.76 404.06L405.74 407.30L402.73 410.59L399.72 413.91L396.70 417.28L393.69 420.68L390.68 424.13L387.66 427.62L384.65 431.15L381.64 434.72L378.62 438.34L375.61 441.99L372.59 445.69L369.58 449.43L366.57 453.21L363.55 457.03L360.54 460.90L357.53 464.80L354.51 468.75L351.50 472.73L348.49 476.76L345.47 480.83L342.46 484.95L339.45 489.10L336.43 493.30L333.42 497.53L330.41 501.81L327.39 506.13L324.38 510.49L321.36 514.89L318.35 519.34L315.34 523.82L312.32 528.35L309.31 532.92L306.30 537.53L303.28 542.18L300.27 546.87L297.26 551.61L294.24 556.38L291.23 561.20L288.22 566.06L285.20 570.96L282.19 575.90L279.17 580.88L276.16 585.91L273.15 590.97L270.13 596.08L267.12 601.23L264.11 606.42L261.09 611.65L258.08 616.93L255.07 622.24L252.05 627.60L249.04 632.99L246.03 638.43L243.01 643.91L240.00 649.44L236.99 655.00L233.97 660.61L230.96 666.25L227.94 671.94L224.93 677.67L221.92 683.44L218.90 689.26L215.89 695.11L212.88 701.01L210.15 706.38L209.86 706.38L206.85 706.38L206.85 706.38Z"/>
</g>
<g fill="none">
<path d="M208.7 232.3V170.4" stroke="#a6a6a6" stroke-width="2.6"/>
<path d="M203.2 170.4h11" stroke="#a6a6a6" stroke-width="1.8"/>
<path d="M208.7 472V401.7" stroke="#a6a6a6" stroke-width="2.6"/>
<path d="M203.2 401.7h11" stroke="#555" stroke-width="1.6"/>
<path d="M208.7 539.7V476.5" stroke="#a6a6a6" stroke-width="2.6"/>
<path d="M203.2 476.5h11" stroke="#000" stroke-width="1.5"/>
<path d="M208.3 708V618.2" stroke="#000" stroke-width="1.1" stroke-dasharray="4 1.5 6 2 1.5 1.5 3 1"/>
<path d="M202.8 618.2h11" stroke="#a8a8a8" stroke-width="2.0"/>
<path d="M391.2 202.4V150.7" stroke="#000" stroke-width="1.4"/>
<path d="M385.7 150.7h11" stroke="#000" stroke-width="1.5"/>
<path d="M391.2 249V208" stroke="#000" stroke-width="1.4"/>
<path d="M385.7 208h11" stroke="#000" stroke-width="1.5"/>
<path d="M391.2 322.6V295.2" stroke="#000" stroke-width="1.4"/>
<path d="M385.7 295.2h11" stroke="#000" stroke-width="1.5"/>
<path d="M391.2 423.7V362" stroke="#000" stroke-width="1.8"/>
<path d="M385.7 362h11" stroke="#000" stroke-width="1.8"/>
<path d="M515.1 141.3V90.9" stroke="#000" stroke-width="1.5"/>
<path d="M509.6 90.9h11" stroke="#000" stroke-width="1.5"/>
<path d="M515.1 216V186.9" stroke="#000" stroke-width="1.5"/>
<path d="M509.6 186.9h11" stroke="#000" stroke-width="1.5"/>
<path d="M515.1 212V183.5" stroke="#000" stroke-width="1.5"/>
<path d="M509.6 183.5h11" stroke="#000" stroke-width="1.5"/>
<path d="M515.1 305.0V263.8" stroke="#000" stroke-width="1.8"/>
<path d="M509.6 263.8h11" stroke="#000" stroke-width="1.8"/>
<path d="M609.2 249.2V221.7" stroke="#000" stroke-width="1.4"/>
<path d="M603.7 221.7h11" stroke="#000" stroke-width="1.5"/>
<path d="M609.2 272V236.7" stroke="#000" stroke-width="1.4"/>
<path d="M603.7 236.7h11" stroke="#000" stroke-width="1.5"/>
<path d="M609.2 311.3V280" stroke="#000" stroke-width="1.4"/>
<path d="M603.7 280h11" stroke="#000" stroke-width="1.5"/>
<path d="M685.4 261.9V230.7" stroke="#000" stroke-width="2.4"/>
<path d="M679.9 230.7h11" stroke="#000" stroke-width="1.6"/>
<path d="M685.4 274.9V244.4" stroke="#000" stroke-width="2.4"/>
<path d="M679.9 244.4h11" stroke="#000" stroke-width="1.6"/>
<path d="M685.4 383.4V345.5" stroke="#000" stroke-width="2.4"/>
<path d="M679.9 345.5h11" stroke="#000" stroke-width="1.6"/>
<path d="M685.4 397.1V369.2" stroke="#000" stroke-width="2.0"/>
<path d="M679.9 369.2h11" stroke="#000" stroke-width="1.6"/>
<path d="M749.2 314V280.3" stroke="#000" stroke-width="2.2"/>
<path d="M743.7 280.3h11" stroke="#000" stroke-width="2.2"/>
<path d="M749.2 334.7V314" stroke="#000" stroke-width="1.4"/>
<path d="M743.7 314h11" stroke="#000" stroke-width="1.5"/>
<path d="M749.2 473.1V430" stroke="#000" stroke-width="1.4"/>
<path d="M743.7 430h11" stroke="#000" stroke-width="1.5"/>
<path d="M749.2 473.1V437.5" stroke="#000" stroke-width="1.4"/>
<path d="M743.7 437.5h11" stroke="#000" stroke-width="1.5"/>
<path d="M804.8 379.1V321" stroke="#000" stroke-width="3.0"/>
<path d="M799.3 321h11" stroke="#000" stroke-width="1.6"/>
<path d="M804.8 426.5V395.9" stroke="#000" stroke-width="3.0"/>
<path d="M799.3 395.9h11" stroke="#000" stroke-width="1.6"/>
<path d="M804.8 453.2V419.8" stroke="#000" stroke-width="3.0"/>
<path d="M799.3 419.8h11" stroke="#000" stroke-width="1.5"/>
<path d="M804.8 494.9V458.7" stroke="#000" stroke-width="3.0"/>
<path d="M799.3 458.7h11" stroke="#000" stroke-width="2.0"/>
<path d="M851.8 336.7V289.1" stroke="#000" stroke-width="2.6"/>
<path d="M846.3 289.1h11" stroke="#000" stroke-width="2.6"/>
<path d="M851.8 608.4V561" stroke="#000" stroke-width="1.3"/>
<path d="M846.3 561h11" stroke="#000" stroke-width="1.5"/>
<path d="M851.8 647.5V581.7" stroke="#000" stroke-width="1.3"/>
<path d="M846.3 581.7h11" stroke="#000" stroke-width="1.5"/>
<path d="M851.8 809.1V753.5" stroke="#000" stroke-width="1.3"/>
<path d="M846.3 753.5h11" stroke="#999" stroke-width="1.5"/>
<path d="M895.6 430.4V366.9" stroke="#000" stroke-width="2.8"/>
<path d="M890.1 366.9h11" stroke="#000" stroke-width="2.8"/>
<path d="M895.3 627.6V579.7" stroke="#000" stroke-width="2.4"/>
<path d="M889.8 579.7h11" stroke="#000" stroke-width="2.4"/>
<path d="M895.3 656V583.4" stroke="#000" stroke-width="2.4"/>
<path d="M889.8 583.4h11" stroke="#000" stroke-width="2.4"/>
<path d="M895.3 764.7V696.6" stroke="#000" stroke-width="2.2"/>
<path d="M889.8 696.6h11" stroke="#999" stroke-width="2.2"/>
</g>
<g>
<circle cx="208.6" cy="232.3" r="7.0" fill="none" stroke="#000" stroke-width="1.8"/>
<circle cx="391.2" cy="201.8" r="7.0" fill="none" stroke="#000" stroke-width="1.8"/>
<circle cx="515.0" cy="216.4" r="7.0" fill="none" stroke="#000" stroke-width="1.8"/>
<circle cx="609.2" cy="311.3" r="7.0" fill="none" stroke="#000" stroke-width="1.8"/>
<circle cx="685.4" cy="383.4" r="7.0" fill="none" stroke="#000" stroke-width="1.8"/>
<circle cx="749.2" cy="473.3" r="7.0" fill="none" stroke="#000" stroke-width="2.3"/>
<circle cx="804.8" cy="494.9" r="7.0" fill="none" stroke="#000" stroke-width="1.8"/>
<circle cx="851.8" cy="647.5" r="7.0" fill="none" stroke="#000" stroke-width="1.8"/>
<circle cx="895.3" cy="656" r="7.0" fill="none" stroke="#000" stroke-width="1.8"/>
<rect x="201.45" y="465.0" width="14.3" height="14.0" fill="none" stroke="#000" stroke-width="1.5"/>
<rect x="384.15000000000003" y="241.8" width="14.3" height="14.0" fill="none" stroke="#000" stroke-width="1.5"/>
<rect x="507.85" y="134.4" width="14.3" height="14.0" fill="none" stroke="#000" stroke-width="1.5"/>
<rect x="602.45" y="242.2" width="14.3" height="14.0" fill="none" stroke="#000" stroke-width="1.5"/>
<rect x="678.25" y="390.1" width="14.3" height="14.0" fill="none" stroke="#000" stroke-width="1.5"/>
<rect x="742.0500000000001" y="466.3" width="14.3" height="14.0" fill="none" stroke="#000" stroke-width="2.3"/>
<rect x="797.85" y="446.3" width="14.3" height="14.0" fill="none" stroke="#000" stroke-width="1.5"/>
<rect x="844.65" y="802.1" width="14.3" height="14.0" fill="none" stroke="#000" stroke-width="1.8"/>
<rect x="888.15" y="757.7" width="14.3" height="14.0" fill="none" stroke="#000" stroke-width="2.4"/>
<path d="M201.60000000000002 539.7L208.3 532.8000000000001L215.0 539.7L208.3 546.6Z" fill="none" stroke="#000" stroke-width="2.0"/>
<path d="M384.5 322.6L391.2 315.70000000000005L397.9 322.6L391.2 329.5Z" fill="none" stroke="#000" stroke-width="2.0"/>
<path d="M508.3 211.2L515.0 204.29999999999998L521.7 211.2L515.0 218.1Z" fill="none" stroke="#000" stroke-width="2.0"/>
<path d="M602.5 272L609.2 265.1L615.9000000000001 272L609.2 278.9Z" fill="none" stroke="#000" stroke-width="2.0"/>
<path d="M678.6999999999999 261.9L685.4 254.99999999999997L692.1 261.9L685.4 268.79999999999995Z" fill="none" stroke="#000" stroke-width="2.0"/>
<path d="M742.5 334.7L749.2 327.8L755.9000000000001 334.7L749.2 341.59999999999997Z" fill="none" stroke="#000" stroke-width="2.0"/>
<path d="M798.1999999999999 426.5L804.9 419.6L811.6 426.5L804.9 433.4Z" fill="none" stroke="#000" stroke-width="2.0"/>
<path d="M845.0999999999999 608.4L851.8 601.5L858.5 608.4L851.8 615.3Z" fill="none" stroke="#000" stroke-width="2.0"/>
<path d="M888.5999999999999 627.6L895.3 620.7L902.0 627.6L895.3 634.5Z" fill="none" stroke="#000" stroke-width="2.0"/>
<circle cx="208" cy="708" r="8.0" fill="#000"/>
<circle cx="390.9" cy="423.7" r="8.0" fill="#000"/>
<circle cx="515.0" cy="304.8" r="8.0" fill="#000"/>
<circle cx="609.2" cy="279.6" r="8.0" fill="#000"/>
<circle cx="685.4" cy="274.9" r="8.0" fill="#000"/>
<circle cx="749.2" cy="314" r="8.0" fill="#000"/>
<circle cx="804.8" cy="379.1" r="8.0" fill="#000"/>
<circle cx="852" cy="336.7" r="8.0" fill="#000"/>
<circle cx="895.5" cy="430.2" r="8.0" fill="#000"/>
</g>
<g fill="none" stroke="#000">
<path d="M717.7 43.3H725.8M737.8 43.3H746.7M758.6 43.3H769M778.7 43.3H786.1M798.5 43.3H804.4" stroke-width="2.3"/>
<path d="M717.7 78.7H738M758.3 78.7H778.7M798.5 78.7H804.4" stroke-width="1.6"/>
<path d="M717.4 115.1H804.2" stroke-width="1.6"/>
<path d="M716.9 150.8H805.9" stroke-width="3.7"/>
</g>
<circle cx="760.8000000000001" cy="43.3" r="7.0" fill="none" stroke="#000" stroke-width="1.8"/>
<rect x="754.45" y="71.7" width="14.3" height="14.0" fill="none" stroke="#000" stroke-width="1.5"/>
<path d="M754.4 115.1L761.1 108.19999999999999L767.8000000000001 115.1L761.1 122.0Z" fill="none" stroke="#000" stroke-width="2.0"/>
<circle cx="761.1" cy="150.8" r="8.0" fill="#000"/>
<g font-family="'Liberation Sans', sans-serif" fill="#000" stroke="#000" stroke-width="0.7" stroke-linejoin="round">
<text font-size="33.5" xml:space="preserve"><tspan x="823.77" y="56.00" textLength="86.08" lengthAdjust="spacingAndGlyphs">2-mm</tspan> <tspan x="920.56" y="56.00" textLength="87.01" lengthAdjust="spacingAndGlyphs">Probe</tspan></text>
<text font-size="33.5" xml:space="preserve"><tspan x="824.11" y="92.20" textLength="85.73" lengthAdjust="spacingAndGlyphs">5-mm</tspan> <tspan x="920.56" y="92.20" textLength="87.01" lengthAdjust="spacingAndGlyphs">Probe</tspan></text>
<text font-size="33.5" xml:space="preserve"><tspan x="824.02" y="128.40" textLength="85.82" lengthAdjust="spacingAndGlyphs">8-mm</tspan> <tspan x="920.56" y="128.40" textLength="87.01" lengthAdjust="spacingAndGlyphs">Probe</tspan></text>
<text font-size="33.5" xml:space="preserve"><tspan x="824.71" y="164.60" textLength="94.23" lengthAdjust="spacingAndGlyphs">Finger</tspan></text>
<text font-size="33.5" xml:space="preserve"><tspan x="60.71" y="217.70" textLength="53.67" lengthAdjust="spacing">0.8</tspan></text>
<text font-size="33.5" xml:space="preserve"><tspan x="60.71" y="410.60" textLength="53.67" lengthAdjust="spacing">0.6</tspan></text>
<text font-size="33.5" xml:space="preserve"><tspan x="60.71" y="604.60" textLength="53.17" lengthAdjust="spacing">0.4</tspan></text>
<text font-size="33.5" xml:space="preserve"><tspan x="60.71" y="797.80" textLength="53.92" lengthAdjust="spacing">0.2</tspan></text>
<text font-size="33.5" xml:space="preserve"><tspan x="570.17" y="918.30" textLength="19.80" lengthAdjust="spacingAndGlyphs">2</tspan></text>
<text font-size="33.5" xml:space="preserve"><tspan x="733.74" y="919.20" textLength="17.91" lengthAdjust="spacingAndGlyphs">3</tspan></text>
<text font-size="38.5" xml:space="preserve"><tspan x="391.16" y="964.80" textLength="209.62" lengthAdjust="spacingAndGlyphs">Interelement</tspan> <tspan x="618.65" y="965.20" textLength="136.82" lengthAdjust="spacingAndGlyphs">Spacing</tspan> <tspan x="771.44" y="965.60" textLength="86.20" lengthAdjust="spacingAndGlyphs">(mm)</tspan></text>
<text font-size="38.5" transform="translate(28.7 0) rotate(-90)" xml:space="preserve"><tspan x="-672.24" y="0.00" textLength="62.58" lengthAdjust="spacingAndGlyphs">Log</tspan> <tspan x="-589.56" y="0.20" textLength="167.53" lengthAdjust="spacingAndGlyphs">Perceived</tspan> <tspan x="-407.82" y="0.40" textLength="194.38" lengthAdjust="spacingAndGlyphs">Roughness</tspan></text>
<clipPath id="k1"><rect x="90.58" y="-10.600000000000001" width="9.88" height="30.19"/><rect x="100.46" y="-10.600000000000001" width="3.84" height="37.5"/></clipPath>
<text x="92.58" y="22.9" font-size="33.5" clip-path="url(#k1)">1</text>
<clipPath id="k2"><rect x="296.88" y="887.7" width="9.12" height="27.41"/><rect x="306.00" y="887.7" width="3.60" height="34.5"/></clipPath>
<text x="298.88" y="918.2" font-size="30.5" clip-path="url(#k2)">1</text>
</g>
</g>
</svg>
</body>
</html>
